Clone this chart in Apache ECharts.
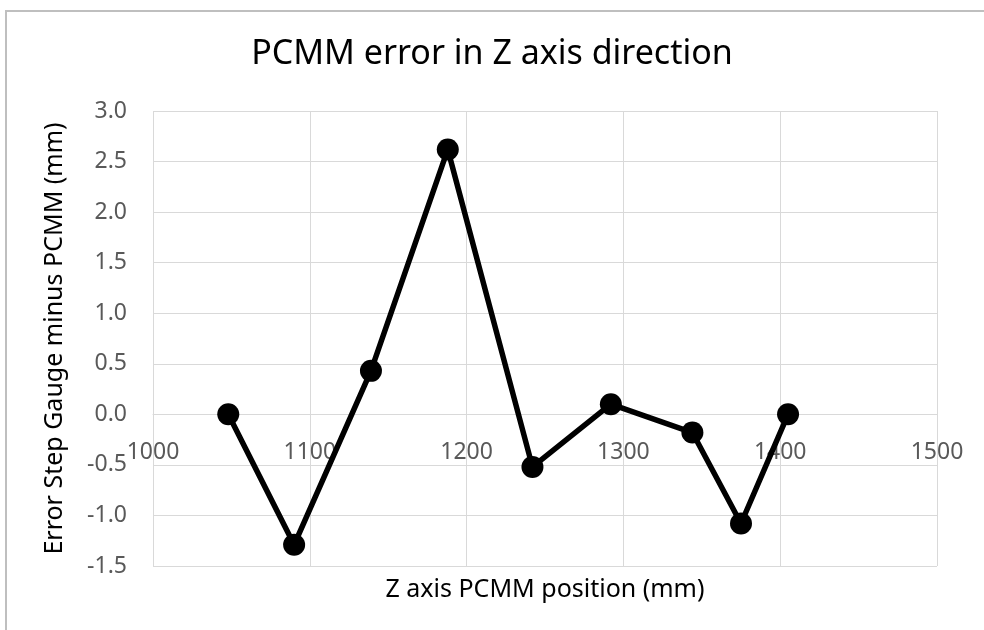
<!DOCTYPE html>
<html>
<head>
<meta charset="utf-8">
<script src="https://cdn.jsdelivr.net/npm/echarts@6/dist/echarts.min.js"></script>
<style>
html,body{margin:0;padding:0;background:#fff;}
#main{width:984px;height:630px;}
</style>
</head>
<body>
<div id="main"></div>
<script>
// Z position (mm) and error (mm)
var zPos = [1048, 1090, 1139, 1188, 1242, 1292, 1344, 1375, 1405];
var zErr = [0.0, -1.29, 0.43, 2.62, -0.52, 0.10, -0.18, -1.08, 0.0];

var titleText = 'PCMM error in Z axis direction';
var xTitle = 'Z axis PCMM position (mm)';
var yTitle = 'Error Step Gauge minus PCMM (mm)';

var pts = [];
for (var i = 0; i < zPos.length; i++) {
	pts.push([zPos[i], zErr[i]]);
}

var font = 'Noto Sans';
var chart = echarts.init(document.getElementById('main'));
var option = {
	backgroundColor: '#fff',
	animation: false,
	title: {
		text: titleText,
		left: 'center',
		top: 32,
		textStyle: {fontFamily: font, fontSize: 34, fontWeight: 'normal', color: '#000'}
	},
	graphic: [
		{
			type: 'rect',
			shape: {x: 6, y: 11, width: 990, height: 640},
			style: {fill: 'none', stroke: '#bfbfbf', lineWidth: 2},
			silent: true
		},
		{
			type: 'text',
			x: 545, y: 590,
			style: {text: xTitle, fontFamily: font, fontSize: 25, fill: '#000', align: 'center', verticalAlign: 'middle'}
		}
	],
	grid: {left: 153, right: 47, top: 111, bottom: 64, outerBoundsMode: 'none'},
	xAxis: {
		type: 'value',
		min: 1000,
		max: 1500,
		interval: 100,
		// labels sit on the zero line, like the Excel chart
		offset: -152,
		axisLine: {show: true, onZero: false, lineStyle: {color: '#d9d9d9', width: 1}},
		axisTick: {show: false},
		axisLabel: {
			color: '#595959', fontFamily: font, fontSize: 23, margin: 27,
			formatter: function (v) { return String(v); }
		},
		splitLine: {show: true, lineStyle: {color: '#d9d9d9', width: 1}}
	},
	yAxis: {
		type: 'value',
		min: -1.5,
		max: 3.0,
		interval: 0.5,
		name: yTitle,
		nameLocation: 'middle',
		nameGap: 86,
		nameTextStyle: {fontFamily: font, fontSize: 25, color: '#000'},
		axisLine: {show: false},
		axisTick: {show: false},
		axisLabel: {
			color: '#595959', fontFamily: font, fontSize: 23, margin: 26,
			formatter: function (v) { return v.toFixed(1); }
		},
		splitLine: {show: true, lineStyle: {color: '#d9d9d9', width: 1}}
	},
	series: [{
		type: 'line',
		data: pts,
		symbol: 'circle',
		symbolSize: 22,
		itemStyle: {color: '#000'},
		lineStyle: {color: '#000', width: 5.5},
		z: 5
	}]
};
chart.setOption(option);
</script>
</body>
</html>
